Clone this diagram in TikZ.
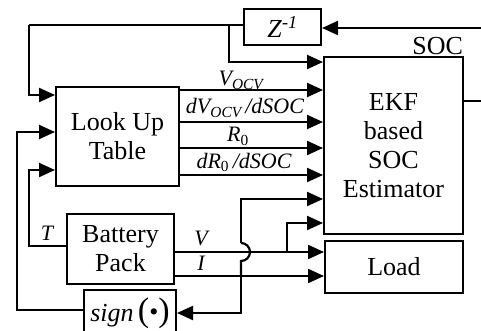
\documentclass[tikz,border=0pt]{standalone}
\usepackage{fontspec}
\setmainfont{Liberation Serif}
\usetikzlibrary{arrows.meta}
\begin{document}
\begin{tikzpicture}[x=1pt,y=-1pt,
  line width=2.2pt,
  box/.style={draw,line width=2pt,inner sep=0pt,font=\fontsize{26}{29}\selectfont,align=center},
  arr/.style={-{Triangle[length=16pt,width=14pt]}},
  lab/.style={font=\fontsize{22}{24}\selectfont\itshape,inner sep=0pt}]
\useasboundingbox (0,0) rectangle (481,331);
\clip (0,0) rectangle (481,331);
% boxes
\node[box,minimum width=77pt,minimum height=36pt] (Z) at (282.5,27) {\textit{Z}\textsuperscript{\textit{-1}}};
\node[box,minimum width=123pt,minimum height=99pt] (LUT) at (117.5,136.5) {Look Up\\Table};
\node[box,minimum width=139pt,minimum height=177pt] (EKF) at (393.5,145.5) {EKF\\based\\SOC\\Estimator};
\node[box,minimum width=138pt,minimum height=52pt] (Load) at (394,267) {Load};
\node[box,minimum width=107pt,minimum height=70pt] (Bat) at (120.5,249) {Battery\\Pack};
\node[box,minimum width=92pt,minimum height=50pt,anchor=north] (Sgn) at (130,289) {};
\node[inner sep=0pt,font=\fontsize{26}{29}\selectfont] (SgnT) at (130,313) {\textit{sign}\,{\fontsize{34}{34}\selectfont(}\raisebox{1pt}{\textbullet}{\fontsize{34}{34}\selectfont)}};
% SOC feedback
\coordinate (rc) at (483,28);
\draw (EKF.east |- 0,101) -- (rc |- 0,101) -- (rc);
\draw[arr] (rc) -- (Z.east |- rc);
\node[font=\fontsize{26}{29}\selectfont,inner sep=0pt,anchor=south east] (SOC) at (EKF.north east) {SOC};
\draw (Z.west |- 0,25) -- (29,25) coordinate (tl);
\draw[arr] (tl) -- (29,95) -- (LUT.west |- 0,95);
\draw[arr] (229,25) -- (229,62) -- (EKF.west |- 0,62);
% LUT outputs
\draw[arr] (LUT.east |- 0,90) -- (EKF.west |- 0,90);
\draw[arr] (LUT.east |- 0,122) -- (EKF.west |- 0,122);
\draw[arr] (LUT.east |- 0,148) -- (EKF.west |- 0,148);
\draw[arr] (LUT.east |- 0,175) -- (EKF.west |- 0,175);
\node[lab,anchor=base] (l1) at (241,86) {V\textsubscript{OCV}};
\node[lab,anchor=base] (l2) at (245,114) {dV\textsubscript{OCV}\,/dSOC};
\node[lab,anchor=base] (l3) at (238,142) {R\textsubscript{\upshape 0}};
\node[lab,anchor=base] (l4) at (244,168) {dR\textsubscript{\upshape 0}\,/dSOC};
% battery outputs
\draw[arr] (Bat.east |- 0,252) -- (Load.west |- 0,252);
\draw[arr] (Bat.east |- 0,276) -- (Load.west |- 0,276);
\draw[arr] (287,252) -- (287,223) -- (EKF.west |- 0,223);
\node[lab,anchor=base] (lV) at (201,245) {V};
\node[lab,anchor=base] (lI) at (201,270) {I};
% current to sign with jump
\draw[arr] (241,276) -- (241,313) -- (Sgn.east |- 0,313);
\draw (241,276) -- (241,261) arc[start angle=-90,end angle=90,radius=9pt];
\draw[arr] (241,243) -- (241,199) -- (EKF.west |- 0,199);
% T loop
\draw[arr] (Bat.west |- 0,246) -- (29,246) -- (29,170) -- (LUT.west |- 0,170);
\node[lab,anchor=base] (lT) at (47,240) {T};
% sign loop
\draw[arr] (Sgn.west |- 0,310) -- (17,310) -- (17,132) -- (LUT.west |- 0,132);
\end{tikzpicture}
\end{document}
